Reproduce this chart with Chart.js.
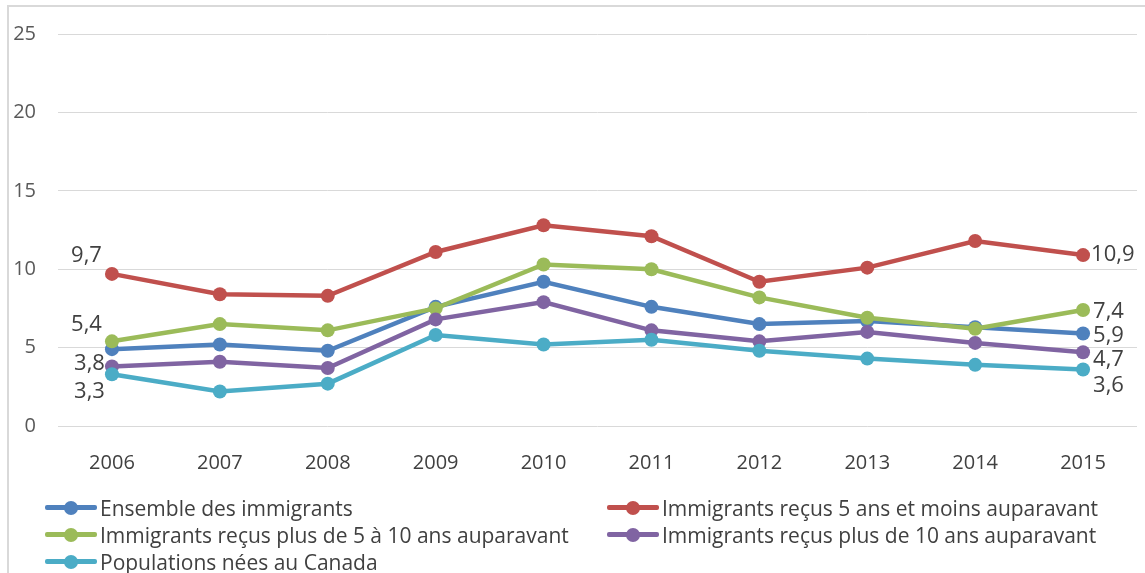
<!DOCTYPE html>
<html lang="fr">
<head>
<meta charset="utf-8">
<title>Taux de chômage</title>
<script src="https://cdn.jsdelivr.net/npm/chart.js@4/dist/chart.umd.min.js"></script>
<style>
  html, body { margin: 0; padding: 0; background: #fff; }
  #wrap { position: relative; width: 1145px; height: 573px; overflow: hidden; }
  #frame { position: absolute; left: 7px; top: 5px; right: 0; bottom: 0;
           border-left: 2px solid #d9d9d9; border-top: 2px solid #d9d9d9; }
  #chart { position: absolute; left: 0; top: 0; }
  #legend { position: absolute; left: 45px; top: 494px; display: grid;
            grid-template-columns: 562px 480px; font-family: 'Open Sans', sans-serif;
            font-size: 21px; color: #404040; }
  .item { display: flex; align-items: center; height: 27px; white-space: nowrap; }
  .swatch { position: relative; width: 52px; height: 5px; margin-right: 3px; border-radius: 2px; flex: none; }
  .swatch span { position: absolute; left: 19px; top: -4.5px; width: 14px; height: 14px; border-radius: 50%; }
</style>
</head>
<body>
<div id="wrap">
  <div id="frame"></div>
  <canvas id="chart" width="1145" height="573"></canvas>
  <div id="legend"></div>
</div>
<script>
// Années et séries (taux en %)
const years = ['2006', '2007', '2008', '2009', '2010', '2011', '2012', '2013', '2014', '2015'];
const ensembleImmigrants = [4.9, 5.2, 4.8, 7.6, 9.2, 7.6, 6.5, 6.7, 6.3, 5.9];
const recus5ansMoins     = [9.7, 8.4, 8.3, 11.1, 12.8, 12.1, 9.2, 10.1, 11.8, 10.9];
const recus5a10ans       = [5.4, 6.5, 6.1, 7.5, 10.3, 10.0, 8.2, 6.9, 6.2, 7.4];
const recusPlus10ans     = [3.8, 4.1, 3.7, 6.8, 7.9, 6.1, 5.4, 6.0, 5.3, 4.7];
const neesAuCanada       = [3.3, 2.2, 2.7, 5.8, 5.2, 5.5, 4.8, 4.3, 3.9, 3.6];
const yTicks = [0, 5, 10, 15, 20, 25];

const seriesNames = [
  'Ensemble des immigrants',
  'Immigrants reçus 5 ans et moins auparavant',
  'Immigrants reçus plus de 5 à 10 ans auparavant',
  'Immigrants reçus plus de 10 ans auparavant',
  'Populations nées au Canada'
];
const seriesColors = ['#4F81BD', '#C0504D', '#9BBB59', '#8064A2', '#4BACC6'];
const seriesData = [ensembleImmigrants, recus5ansMoins, recus5a10ans, recusPlus10ans, neesAuCanada];

// Étiquettes de valeur aux extrémités : décalage par rapport au point
const edgeLabelOffsets = [
  { last: { dx: 10, dy: 2 } },
  { first: { dx: -10, dy: -18 }, last: { dx: 8, dy: 0 } },
  { first: { dx: -10, dy: -17 }, last: { dx: 10, dy: 2 } },
  { first: { dx: -7, dy: -3 },  last: { dx: 10, dy: 7 } },
  { first: { dx: -7, dy: 17 },  last: { dx: 10, dy: 16 } }
];

const fmt = v => v.toFixed(1).replace('.', ',');

const edgeLabels = {
  id: 'edgeLabels',
  afterDatasetsDraw(chart) {
    const ctx = chart.ctx;
    ctx.save();
    ctx.font = '22px "Open Sans", sans-serif';
    ctx.fillStyle = '#404040';
    ctx.textBaseline = 'middle';
    chart.data.datasets.forEach((ds, di) => {
      const meta = chart.getDatasetMeta(di);
      const cfg = ds.edgeLabels || {};
      [['first', 0], ['last', ds.data.length - 1]].forEach(([key, idx]) => {
        const o = cfg[key];
        if (!o) return;
        const pt = meta.data[idx];
        ctx.textAlign = key === 'first' ? 'right' : 'left';
        ctx.fillText(fmt(ds.data[idx]), pt.x + o.dx, pt.y + o.dy);
      });
    });
    ctx.restore();
  }
};

const datasets = seriesNames.map((name, i) => ({
  label: name,
  data: seriesData[i],
  borderColor: seriesColors[i],
  backgroundColor: seriesColors[i],
  pointBackgroundColor: seriesColors[i],
  pointBorderColor: seriesColors[i],
  borderWidth: 4.5,
  pointRadius: 7,
  pointBorderWidth: 0,
  tension: 0,
  order: seriesNames.length - i,
  edgeLabels: edgeLabelOffsets[i]
}));

const chart = new Chart(document.getElementById('chart'), {
  type: 'line',
  data: { labels: years, datasets },
  options: {
    responsive: false,
    animation: false,
    events: [],
    layout: { padding: { left: 0, right: 8, top: 30, bottom: 99 } },
    plugins: { legend: { display: false }, tooltip: { enabled: false } },
    scales: {
      x: {
        offset: true,
        grid: { display: false },
        border: { display: false },
        ticks: { color: '#404040', padding: 17, font: { family: 'Open Sans', size: 20 } },
        afterFit(scale) { scale.height = 48; }
      },
      y: {
        min: 0, max: 25,
        afterBuildTicks(scale) { scale.ticks = yTicks.map(v => ({ value: v })); },
        grid: { color: '#d9d9d9', lineWidth: 1, drawTicks: false },
        border: { display: false },
        ticks: { color: '#595959', padding: 22, font: { family: 'Open Sans', size: 20 } },
        afterFit(scale) { scale.width = 58; }
      }
    }
  },
  plugins: [edgeLabels]
});

// Légende en deux colonnes
const legend = document.getElementById('legend');
chart.data.datasets.forEach(ds => {
  const item = document.createElement('div');
  item.className = 'item';
  const sw = document.createElement('div');
  sw.className = 'swatch';
  sw.style.background = ds.borderColor;
  const dot = document.createElement('span');
  dot.style.background = ds.borderColor;
  sw.appendChild(dot);
  item.appendChild(sw);
  item.appendChild(document.createTextNode(ds.label));
  legend.appendChild(item);
});
</script>
</body>
</html>
